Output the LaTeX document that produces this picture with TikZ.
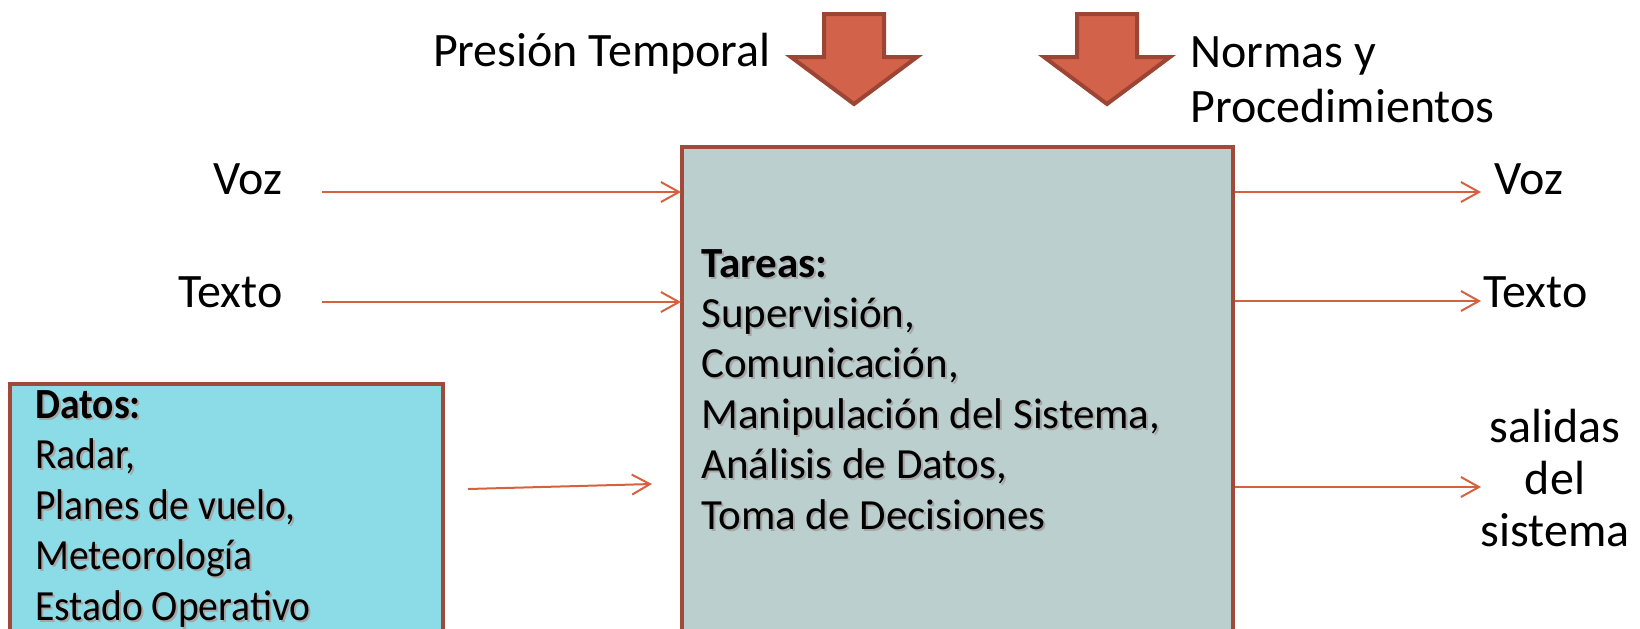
\documentclass[tikz,border=0pt]{standalone}
\usepackage{fontspec}
\setmainfont{Carlito}
\newfontfamily\narrowfont{Carlito}[FakeStretch=0.92]
\usetikzlibrary{arrows.meta}
\definecolor{boxedge}{HTML}{A24A3A}
\definecolor{flowline}{HTML}{D5613F}
\definecolor{pressfill}{HTML}{D2634A}
\definecolor{pressedge}{HTML}{9C4535}
\definecolor{tareasfill}{HTML}{BACFCE}
\definecolor{datosfill}{HTML}{8CDCE8}
\tikzset{
 labeltext/.style={inner sep=0pt, font=\fontsize{24}{27.5}\selectfont},
 boxtext/.style={anchor=base west, align=left, inner sep=0pt, font=\fontsize{21.5}{25.2}\selectfont},
 datostext/.style={boxtext, font=\narrowfont\fontsize{21.5}{25.2}\selectfont},
 flowarrow/.style={draw=flowline, line width=1pt, -{Straight Barb[length=9pt,width=10pt]}},
 pressarrow/.style={draw=pressedge, fill=pressfill, line width=2pt, line join=miter},
 tareasbox/.style={draw=boxedge, fill=tareasfill, line width=2.2pt},
 datosbox/.style={draw=boxedge, fill=datosfill, line width=2.2pt}
}

\begin{document}
\begin{tikzpicture}[x=0.5pt,y=-0.5pt]
\useasboundingbox (0,0) rectangle (1640,628);
\clip (0,0) rectangle (1640,628);
% boxes run past the bottom edge
\draw[tareasbox] (682,147) rectangle (1233,660);
\draw[datosbox] (10,384) rectangle (443,660);
% the two big arrows on top
\foreach \cx in {854,1107}{
 \draw[pressarrow] ({\cx-30},14) -- ({\cx+30},14) -- ({\cx+30},57) -- ({\cx+63},57)
   -- (\cx,104) -- ({\cx-63},57) -- ({\cx-30},57) -- cycle;
}
\node[labeltext, anchor=base east] (presion) at (771,66) {Presión Temporal};
\node[labeltext, anchor=base west, align=left] (normas) at (1190,122) {Normas y\\Procedimientos};
% inputs
\node[labeltext, anchor=base east] (voz-in) at (283,194) {Voz};
\node[labeltext, anchor=base east] (texto-in) at (283,307) {Texto};
\foreach \yy [count=\i] in {192,302}{
 \coordinate (in-\i) at (322,\yy);
 \coordinate (inend-\i) at (681,\yy);
 \draw[flowarrow] (in-\i) -- (inend-\i);
}
\coordinate (datos-out) at (468,489);
\coordinate (datos-in) at (652,484);
\draw[flowarrow] (datos-out) -- (datos-in);
% outputs
\foreach \yy [count=\i] in {192,301,487}{
 \coordinate (out-\i) at (1235,\yy);
 \coordinate (outend-\i) at (1481,\yy);
 \draw[flowarrow] (out-\i) -- (outend-\i);
}
\node[labeltext, anchor=base west] (voz-out) at (1494,194) {Voz};
\node[labeltext, anchor=base west] (texto-out) at (1483,307) {Texto};
\node[labeltext, anchor=base, align=center, font=\fontsize{24}{26}\selectfont] (salidas) at (1555,546) {salidas\\del\\sistema};
% box texts, with a soft shadow
\node[boxtext, text=black!35] (tareas-shade) at (703,531) {\textbf{Tareas:}\\Supervisión,\\Comunicación,\\Manipulación del Sistema,\\Análisis de Datos,\\Toma de Decisiones};
\node[boxtext] (tareas) at (701,529) {\textbf{Tareas:}\\Supervisión,\\Comunicación,\\Manipulación del Sistema,\\Análisis de Datos,\\Toma de Decisiones};
\node[datostext, text=black!35] (datos-shade) at (37,622) {\textbf{Datos:}\\Radar,\\Planes de vuelo,\\Meteorología\\Estado Operativo};
\node[datostext] (datos) at (35,620) {\textbf{Datos:}\\Radar,\\Planes de vuelo,\\Meteorología\\Estado Operativo};
\end{tikzpicture}
\end{document}
